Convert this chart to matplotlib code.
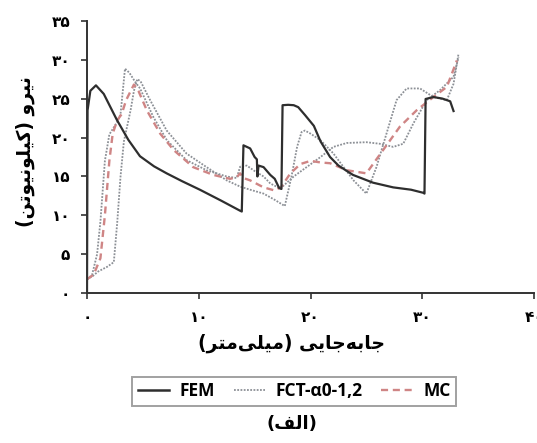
import numpy as np
import matplotlib
matplotlib.use("Agg")
import matplotlib.pyplot as plt
from matplotlib.lines import Line2D

# Data -------------------------------------------------------------------------

fem_x = [0.0, 0.05, 0.3, 0.8, 1.5, 2.66, 3.7, 4.74, 6.0, 7.13, 8.5, 10.1, 12.0,
         13.7, 13.85, 14.0, 14.6, 15.0, 15.2, 15.25, 15.35, 15.8, 16.4, 16.8,
         17.2, 17.4, 17.5, 18.0, 18.5, 18.9, 19.5, 20.3, 20.9, 21.75, 22.5,
         23.8, 25.6, 27.4, 29.0, 30.1, 30.2, 30.3, 31.0, 31.8, 32.5, 32.8]
fem_y = [0.0, 23.5, 26.0, 26.7, 25.6, 22.3, 19.7, 17.6, 16.3, 15.4, 14.4, 13.3,
         11.9, 10.6, 10.5, 19.0, 18.6, 17.5, 17.2, 15.0, 16.4, 16.2, 15.2, 14.7,
         13.5, 13.4, 24.15, 24.2, 24.15, 23.9, 22.9, 21.5, 19.5, 17.5, 16.4,
         15.2, 14.2, 13.6, 13.3, 12.9, 12.8, 24.95, 25.2, 25.0, 24.65, 23.4]

fct1_x = [0.0, 0.45, 0.9, 1.2, 1.6, 2.0, 2.7, 3.0, 3.4, 3.8, 4.33, 4.75, 5.95,
          7.15, 8.9, 10.7, 12.5, 13.4, 13.7, 14.3, 15.0, 15.8, 16.4, 17.3, 18.5,
          19.7, 20.9, 22.05, 23.25, 25.0, 26.2, 27.4, 28.3, 29.2, 30.4, 31.6,
          32.8, 33.25]
fct1_y = [1.8, 2.35, 5.0, 9.2, 17.0, 20.4, 22.0, 23.0, 28.85, 28.3, 27.1, 26.3,
          22.6, 19.65, 17.1, 15.8, 15.0, 14.8, 16.25, 16.4, 15.7, 15.0, 14.1,
          13.45, 15.0, 16.25, 17.5, 18.8, 19.3, 19.4, 19.2, 18.8, 19.2, 21.8,
          24.8, 26.1, 27.8, 30.3]

fct2_x = [0.0, 0.5, 1.0, 1.8, 2.4, 2.7, 3.0, 3.3, 3.6, 3.9, 4.2, 4.5, 4.8,
          5.65, 7.13, 8.9, 10.7, 12.5, 13.7, 14.6, 15.8, 16.8, 17.7, 18.3, 18.8,
          19.2, 19.5, 20.0, 20.9, 22.05, 23.85, 25.0, 25.9, 26.8, 27.7, 28.6,
          29.8, 31.0, 32.2, 32.8, 33.25]
fct2_y = [1.8, 2.2, 2.8, 3.4, 4.0, 9.0, 15.0, 19.5, 21.5, 23.5, 26.0, 27.5,
          27.2, 24.8, 20.9, 17.95, 16.2, 14.5, 13.7, 13.3, 12.8, 12.0, 11.2,
          15.0, 18.8, 20.7, 20.9, 20.5, 19.65, 17.95, 14.5, 12.8, 16.2, 20.5,
          24.8, 26.3, 26.3, 25.2, 24.8, 26.9, 30.8]

mc_x = [0.0, 0.6, 1.2, 1.6, 2.0, 2.3, 2.7, 3.1, 3.5, 4.2, 4.6, 5.35, 6.55,
        7.75, 9.5, 11.3, 12.8, 13.4, 13.7, 14.0, 14.6, 15.8, 16.8, 17.4, 18.2,
        19.1, 20.0, 20.9, 21.75, 23.25, 25.0, 26.5, 28.0, 29.5, 31.0, 32.2, 33.1]
mc_y = [1.8, 2.4, 4.5, 10.0, 17.0, 20.5, 22.2, 23.0, 24.8, 26.8, 26.0, 23.5,
        20.5, 18.4, 16.2, 15.2, 14.7, 14.9, 15.4, 14.8, 14.5, 13.6, 13.2, 13.7,
        15.4, 16.6, 17.0, 16.8, 16.7, 15.8, 15.4, 18.4, 21.4, 23.5, 25.2, 26.5,
        29.9]

x_ticks = [0, 10, 20, 30, 40]
y_ticks = [0, 5, 10, 15, 20, 25, 30, 35]

x_label = "جابه\u200cجایی (میلی\u200cمتر)"
y_label = "نیرو (کیلونیوتن)"
caption = "(الف)"
legend_labels = ["FEM", "FCT-α0-1,2", "MC"]

# Persian shaping (matplotlib does no joining / bidi) ---------------------------

FORMS = {
    'ا': ('\uFE8D', '\uFE8E', None, None),
    'ب': ('\uFE8F', '\uFE90', '\uFE91', '\uFE92'),
    'ت': ('\uFE95', '\uFE96', '\uFE97', '\uFE98'),
    'ج': ('\uFE9D', '\uFE9E', '\uFE9F', '\uFEA0'),
    'ر': ('\uFEAD', '\uFEAE', None, None),
    'ف': ('\uFED1', '\uFED2', '\uFED3', '\uFED4'),
    'ک': ('\uFB8E', '\uFB8F', '\uFB90', '\uFB91'),
    'ل': ('\uFEDD', '\uFEDE', '\uFEDF', '\uFEE0'),
    'م': ('\uFEE1', '\uFEE2', '\uFEE3', '\uFEE4'),
    'ن': ('\uFEE5', '\uFEE6', '\uFEE7', '\uFEE8'),
    'ه': ('\uFEE9', '\uFEEA', '\uFEEB', '\uFEEC'),
    'و': ('\uFEED', '\uFEEE', None, None),
    'ی': ('\uFBFC', '\uFBFD', '\uFBFE', '\uFBFF'),
}


def shape(text):
    out = []
    for i, c in enumerate(text):
        if c == '\u200c':
            continue
        if c not in FORMS:
            out.append(c)
            continue
        prev = text[i - 1] if i > 0 else ''
        nxt = text[i + 1] if i + 1 < len(text) else ''
        jp = prev in FORMS and FORMS[prev][2] is not None
        jn = FORMS[c][2] is not None and nxt in FORMS
        iso, fin, ini, med = FORMS[c]
        if jp and jn:
            out.append(med)
        elif jp:
            out.append(fin)
        elif jn:
            out.append(ini)
        else:
            out.append(iso)
    vis = ''.join(reversed(out))
    return vis.translate(str.maketrans('()', ')('))


def fa_num(n):
    return str(n).translate(str.maketrans('0123456789', '۰۱۲۳۴۵۶۷۸۹'))


# Plot -------------------------------------------------------------------------

fig = plt.figure(figsize=(5.37, 4.43), dpi=100)
ax = fig.add_axes([87 / 537, 1 - 293.3 / 443, 447 / 537, 272.6 / 443])

fem_c = '#2e2e2e'
fct_c = '#8c9096'
mc_c = '#cf8585'

ax.plot(fct1_x, fct1_y, color=fct_c, lw=1.3, dashes=(1, 0.8))
ax.plot(fct2_x, fct2_y, color=fct_c, lw=1.3, dashes=(1, 0.8))
ax.plot(mc_x, mc_y, color=mc_c, lw=1.7, dashes=(3, 2))
ax.plot(fem_x, fem_y, color=fem_c, lw=1.6)

ax.set_xlim(0, 40)
ax.set_ylim(0, 35)
for s in ['top', 'right']:
    ax.spines[s].set_visible(False)
for s in ['left', 'bottom']:
    ax.spines[s].set_color('#333333')
    ax.spines[s].set_linewidth(1.4)

fa_font = dict(family='DejaVu Sans', weight='bold')
ax.set_xticks(x_ticks)
ax.set_xticklabels([fa_num(v) for v in x_ticks], fontsize=11, **fa_font)
ax.set_yticks(y_ticks)
ax.set_yticklabels([fa_num(v) for v in y_ticks], fontsize=11, **fa_font)
ax.tick_params(direction='out', length=4, width=1.2, color='#333333', pad=8)

fig.text(292 / 537, 1 - 343 / 443, shape(x_label), ha='center', va='center',
         fontsize=13.5, **fa_font)
fig.text(25 / 537, 1 - 152 / 443, shape(y_label), ha='center', va='center',
         rotation=90, fontsize=13.5, **fa_font)
fig.text(292 / 537, 1 - 424 / 443, shape(caption), ha='center', va='center',
         fontsize=13, **fa_font)

handles = [Line2D([], [], color=fem_c, lw=1.8),
           Line2D([], [], color=fct_c, lw=1.3, dashes=(1, 0.8)),
           Line2D([], [], color=mc_c, lw=1.7, dashes=(3, 2))]
leg = fig.legend(handles, legend_labels, loc='center', ncol=3,
                 bbox_to_anchor=(294 / 537, 1 - 391.5 / 443),
                 prop=dict(family='Open Sans', weight='bold', size=12.5),
                 frameon=True, fancybox=False, handlelength=1.8,
                 handletextpad=0.6, columnspacing=1.1, borderpad=0.3)
leg.get_frame().set_edgecolor('#8a8a8a')
leg.get_frame().set_linewidth(1.4)

fig.savefig('out.png', dpi=100)
